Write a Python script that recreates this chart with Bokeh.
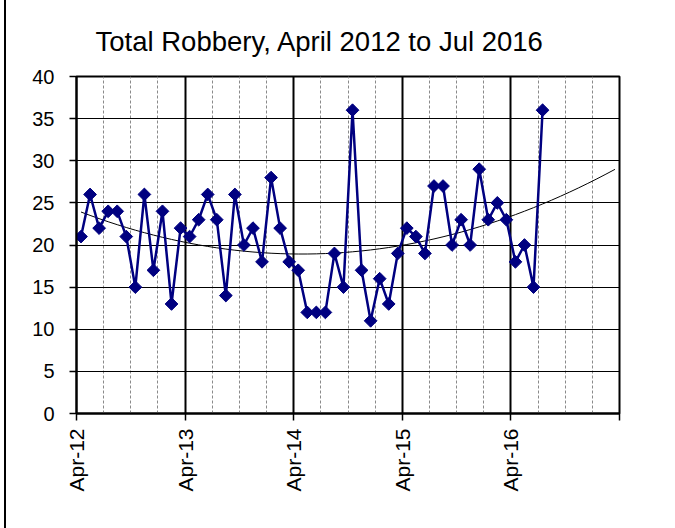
import math
import numpy as np
from bokeh.plotting import figure
from bokeh.models import Range1d, FixedTicker
from bokeh.embed import file_html
from bokeh.resources import INLINE

# ---- data (monthly, Apr 2012 .. Jul 2016) ----
robbery = [21, 26, 22, 24, 24, 21, 15, 26, 17, 24, 13, 22,
           21, 23, 26, 23, 14, 26, 20, 22, 18, 28, 22, 18,
           17, 12, 12, 12, 19, 15, 36, 17, 11, 16, 13, 19,
           22, 21, 19, 27, 27, 20, 23, 20, 29, 23, 25, 23,
           18, 20, 15, 36]
n_categories = 60          # Apr-12 .. Mar-17 (axis extends 5 years)
forecast_periods = 8       # trendline extends to last category
x_tick_positions = [0, 12, 24, 36, 48, 60]
x_tick_labels = ["Apr-12", "Apr-13", "Apr-14", "Apr-15", "Apr-16", ""]
y_ticks = [0, 5, 10, 15, 20, 25, 30, 35, 40]
title_text = "Total Robbery, April 2012 to Jul 2016"

FONT = "Liberation Sans"

x = np.arange(len(robbery)) + 0.5
coef = np.polyfit(x, robbery, 2)
xt = np.arange(len(robbery) + forecast_periods) + 0.5
yt = np.polyval(coef, xt)

p = figure(width=669, height=528,
           x_range=Range1d(0, n_categories), y_range=Range1d(0, 40),
           output_backend="svg", toolbar_location=None,
           min_border_left=70, min_border_right=56,
           min_border_top=76, min_border_bottom=115,
           background_fill_color="white", border_fill_color="white",
           styles={"margin-left": "4px",
                   "border-left": "2px solid black"})

p.title.text = title_text
p.title.text_font = FONT
p.title.text_font_size = "27.5px"
p.title.text_font_style = "normal"
p.title.text_color = "black"
p.title.align = "left"
p.title.offset = 19
p.title.standoff = 39

p.outline_line_color = "black"
p.outline_line_width = 2

minor = [m for m in range(3, n_categories, 3) if m % 12 != 0]
p.xaxis.ticker = FixedTicker(ticks=x_tick_positions, minor_ticks=minor)
p.xaxis.major_label_overrides = {t: l for t, l in zip(x_tick_positions, x_tick_labels)}
p.xaxis.major_label_orientation = math.pi / 2
p.yaxis.ticker = FixedTicker(ticks=y_ticks)

for ax in (p.xaxis, p.yaxis):
    ax.axis_line_color = "black"
    ax.axis_line_width = 2
    ax.major_tick_line_color = "black"
    ax.major_tick_line_width = 1.5
    ax.major_tick_out = 7
    ax.major_tick_in = 0
    ax.minor_tick_out = 0
    ax.minor_tick_in = 0
    ax.major_label_text_font = FONT
    ax.major_label_text_font_size = "20px"
    ax.major_label_text_color = "black"
p.xaxis.major_label_text_font_size = "21px"
p.xaxis.major_label_standoff = 8
p.yaxis.major_label_standoff = 15

p.xgrid.grid_line_color = "black"
p.xgrid.grid_line_width = 2
p.xgrid.minor_grid_line_color = "#8a8a8a"
p.xgrid.minor_grid_line_dash = "3 2"
p.xgrid.minor_grid_line_width = 1
p.ygrid.grid_line_color = "black"
p.ygrid.grid_line_width = 1

p.line(xt, yt, line_color="black", line_width=1)
p.line(x, robbery, line_color="#000080", line_width=2.5)
p.scatter(x, robbery, marker="square", angle=math.pi / 4, size=9,
          fill_color="#000080", line_color="#000080", line_width=1)

open("out.html", "w").write(file_html(p, INLINE))
